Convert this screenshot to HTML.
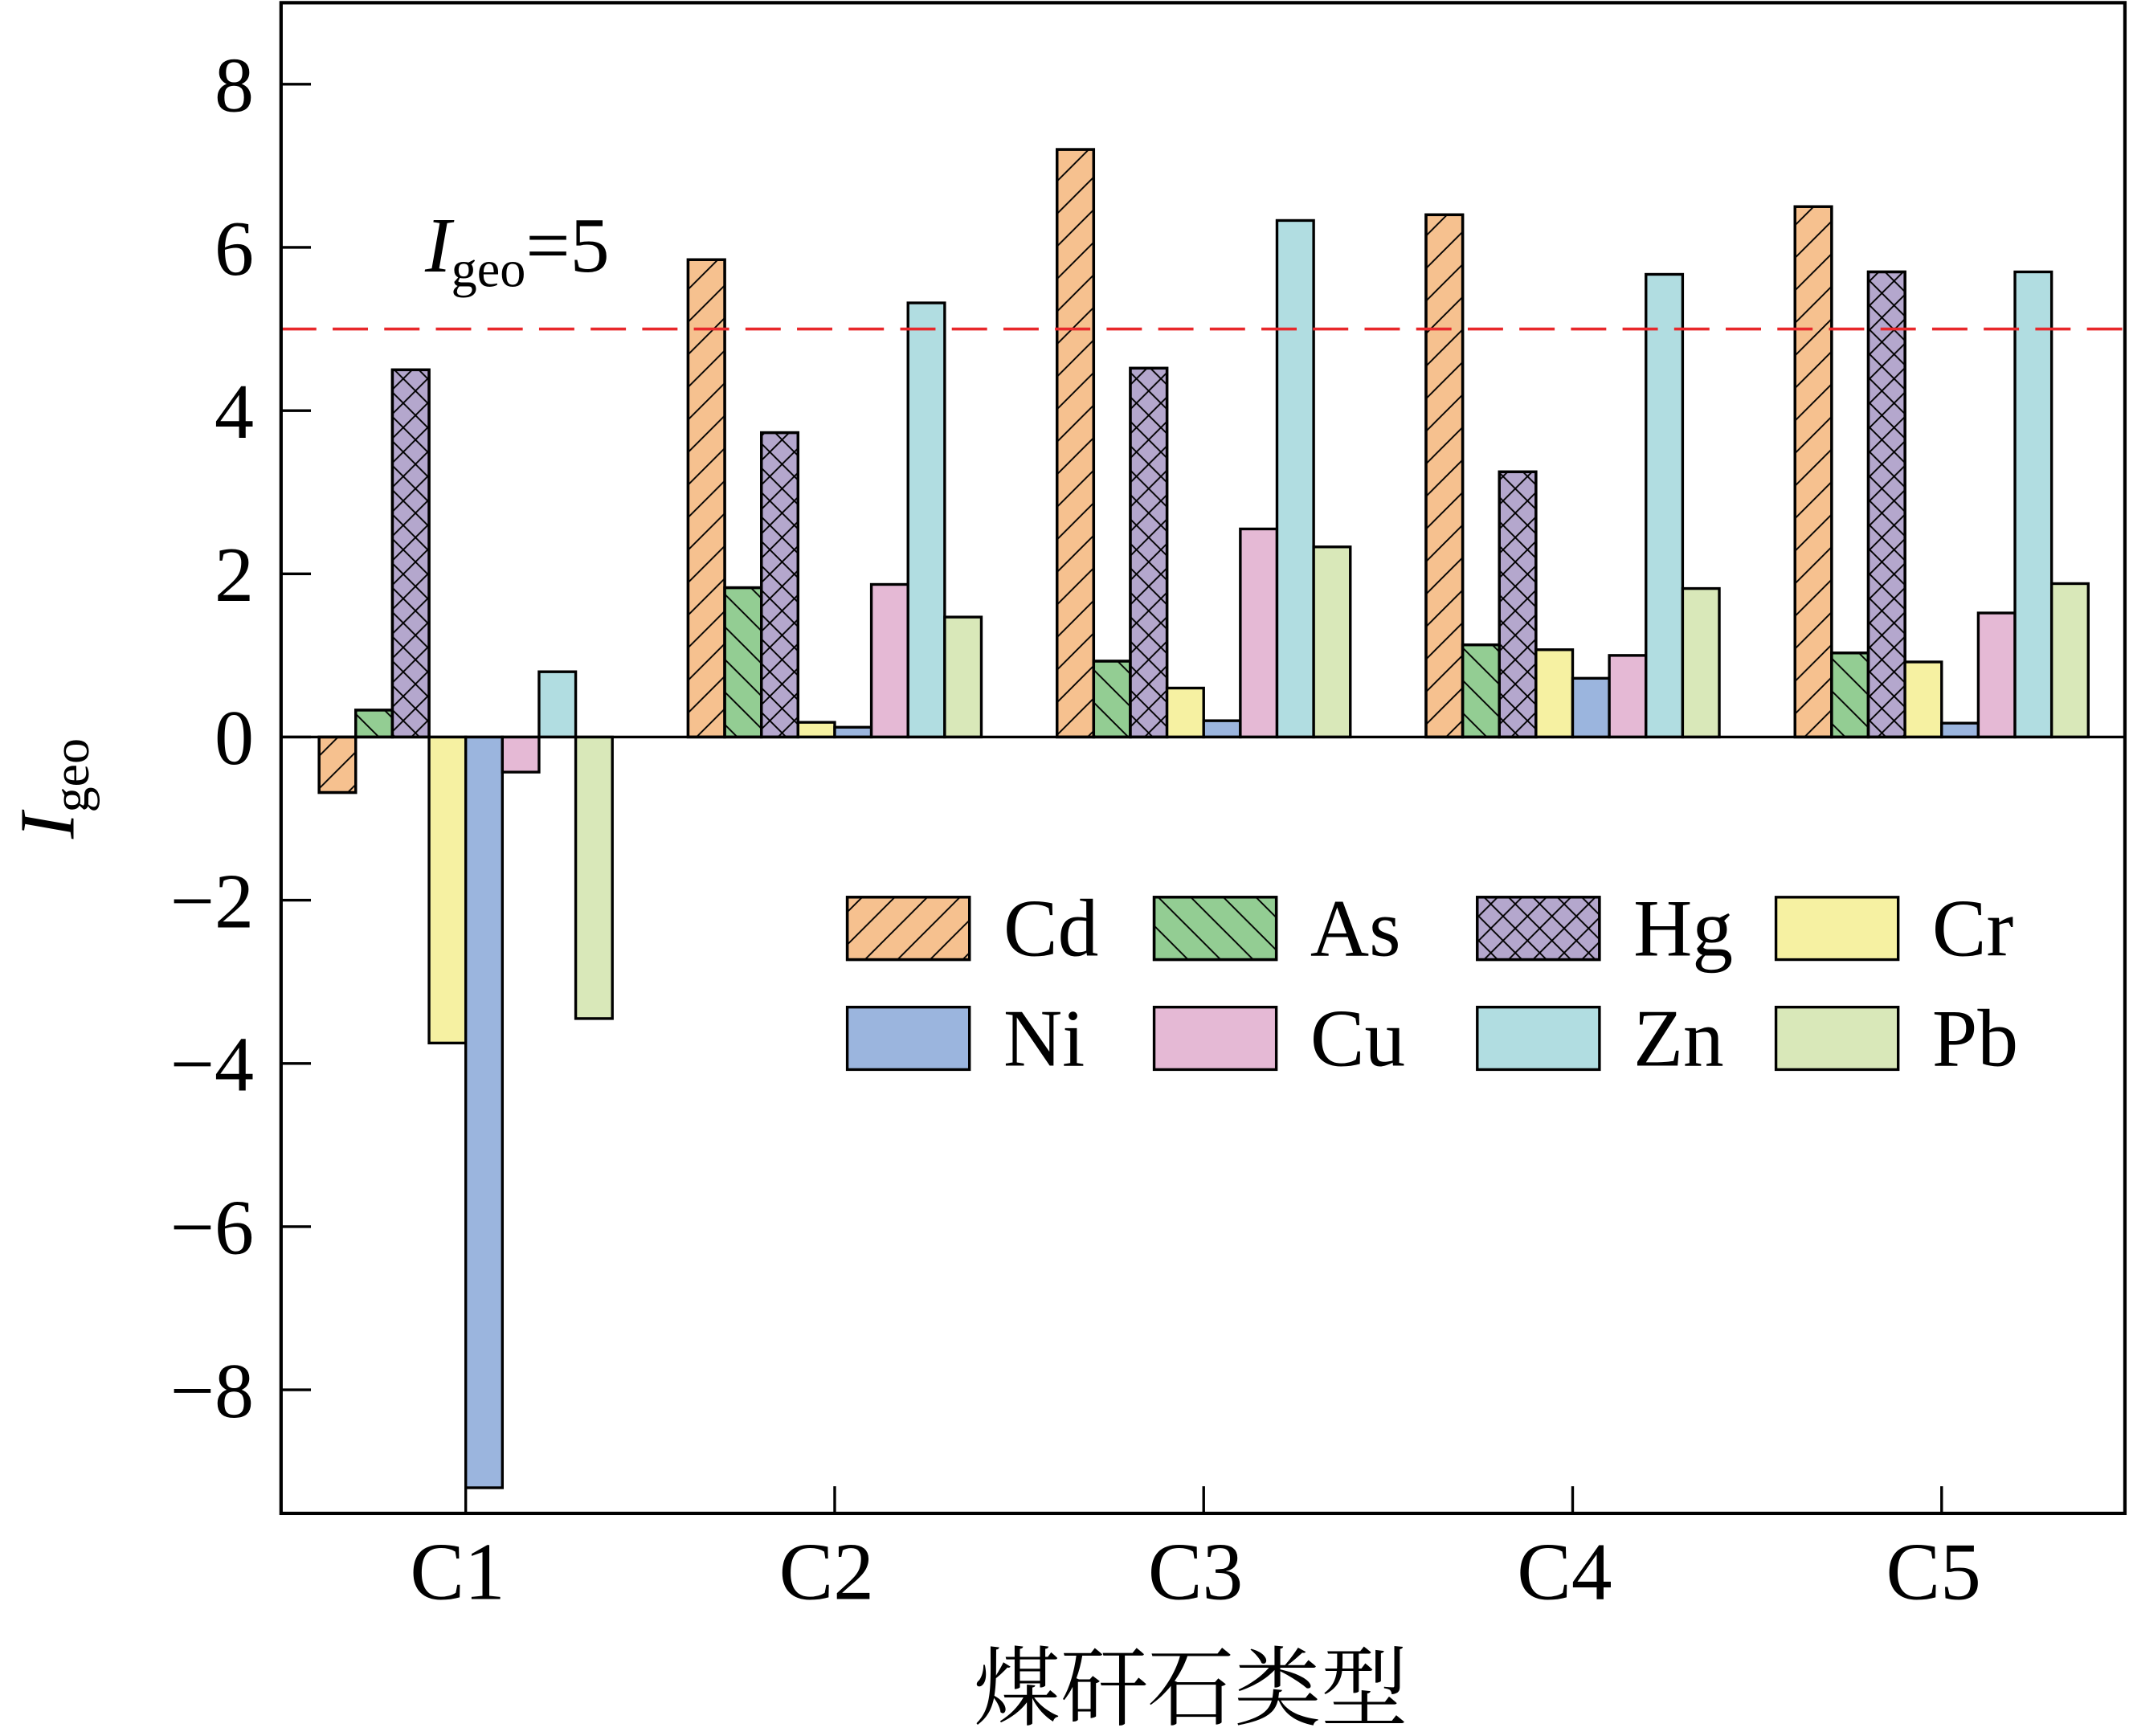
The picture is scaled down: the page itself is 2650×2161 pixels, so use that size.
<!DOCTYPE html>
<html><head><meta charset="utf-8"><style>
html,body{margin:0;padding:0;background:#fff}
svg{display:block}
text{font-family:"Liberation Serif","Noto Serif CJK SC",serif;fill:#000}
</style></head><body>
<svg id="chart" width="2650" height="2161" viewBox="0 0 1568 1279" preserveAspectRatio="none" xmlns="http://www.w3.org/2000/svg">
<defs>
<pattern id="p-fwd" patternUnits="userSpaceOnUse" width="24" height="24"><path d="M-2,26 L26,-2 M-2,2 L2,-2 M22,26 L26,22" stroke="#000" stroke-width="1.1"/></pattern>
<pattern id="p-back" patternUnits="userSpaceOnUse" width="24" height="24"><path d="M-2,-2 L26,26 M22,-2 L26,2 M-2,22 L2,26" stroke="#000" stroke-width="1.1"/></pattern>
<pattern id="p-cross" patternUnits="userSpaceOnUse" width="18" height="18"><path d="M-2,20 L20,-2 M-2,-2 L20,20" stroke="#000" stroke-width="1.1"/></pattern>
</defs>
<g id="bars"></g>
<g id="axes"></g>
<g id="legend"></g>
</svg>
<script>
const categories = ["C1","C2","C3","C4","C5"];
const elements = ["Cd","As","Hg","Cr","Ni","Cu","Zn","Pb"];
const cdVals = [-0.68, 5.85, 7.2, 6.4, 6.5];
const asVals = [0.33, 1.83, 0.93, 1.13, 1.03];
const hgVals = [4.5, 3.73, 4.52, 3.25, 5.7];
const crVals = [-3.75, 0.18, 0.6, 1.07, 0.92];
const niVals = [-9.2, 0.12, 0.2, 0.72, 0.17];
const cuVals = [-0.43, 1.87, 2.55, 1.0, 1.52];
const znVals = [0.8, 5.32, 6.33, 5.67, 5.7];
const pbVals = [-3.45, 1.47, 2.33, 1.82, 1.88];
const yTicks = [-8,-6,-4,-2,0,2,4,6,8];
const yTickLabels = ["\u22128","\u22126","\u22124","\u22122","0","2","4","6","8"];
const threshold = 5;

const series = [cdVals,asVals,hgVals,crVals,niVals,cuVals,znVals,pbVals];
const colors = ["#f6c18f","#93cd93","#b4a7cd","#f6f1a2","#9bb5de","#e5b9d5","#b1dde1","#d9e8b9"];
const pats = ["p-fwd","p-back","p-cross",null,null,null,null,null];
const NS="http://www.w3.org/2000/svg";
const L=207,R=1565,T=2,B=1115;
const y = v => 543 - v*60.12;
const x = i => 343 + i*271.75;
const bw = 27;
function mk(tag, attrs, parent){const e=document.createElementNS(NS,tag);for(const k in attrs)e.setAttribute(k,attrs[k]);parent.appendChild(e);return e;}
const gb=document.getElementById('bars'), ga=document.getElementById('axes'), gl=document.getElementById('legend');
series.forEach((vals,s)=>{
  vals.forEach((v,i)=>{
    const bx = x(i) - 4*bw + s*bw;
    const y0=y(0), y1=y(v);
    const r=mk('rect',{x:bx,y:Math.min(y0,y1),width:bw,height:Math.abs(y1-y0),fill:colors[s],stroke:'#000','stroke-width':2},gb);
    
    
    if(pats[s]){const p=mk('rect',{x:bx,y:Math.min(y0,y1),width:bw,height:Math.abs(y1-y0),fill:'url(#'+pats[s]+')',stroke:'#000','stroke-width':2},gb);
      
      }
  });
});
const zl=mk('line',{x1:L,x2:R,y1:y(0),y2:y(0),stroke:'#000','stroke-width':2},ga);


const th=mk('line',{x1:L,x2:R,y1:y(threshold),y2:y(threshold),stroke:'#e8282b','stroke-width':2.2,'stroke-dasharray':'26,12'},ga);


const tl=mk('text',{x:313,y:200,'font-size':58,'font-style':'italic'},ga);


tl.innerHTML='I<tspan font-style="normal" font-size="38" dy="11">geo</tspan><tspan font-style="normal" dy="-11">=5</tspan>';
const fr=mk('rect',{x:L,y:T,width:R-L,height:B-T,fill:'none',stroke:'#000','stroke-width':2.5},ga);


yTicks.forEach((t,k)=>{
  const tk=mk('line',{x1:L,x2:L+22,y1:y(t),y2:y(t),stroke:'#000','stroke-width':2},ga);
  
  
  const lb=mk('text',{x:187,y:y(t)+20,'font-size':58,'text-anchor':'end'},ga);
  
  
  lb.textContent=yTickLabels[k];
});
categories.forEach((c,i)=>{
  const tk=mk('line',{x1:x(i),x2:x(i),y1:B,y2:B-20,stroke:'#000','stroke-width':2},ga);
  
  
  const lb=mk('text',{x:x(i)-6,y:1178,'font-size':60,'text-anchor':'middle'},ga);
  
  
  lb.textContent=c;
});
const xt=mk('text',{x:877,y:1266,'font-size':64,'text-anchor':'middle'},ga);


xt.textContent='煤矸石类型';
const yt=mk('text',{x:0,y:0,'font-size':58,'font-style':'italic',transform:'translate(54,618) rotate(-90)'},ga);


yt.innerHTML='I<tspan font-style="normal" font-size="38" dy="11">geo</tspan>';
const lx=[624,850,1088,1308], ly=[661,742];
elements.forEach((e,s)=>{
  const cx=lx[s%4], cy=ly[Math.floor(s/4)];
  const b=mk('rect',{x:cx,y:cy,width:90,height:46,fill:colors[s],stroke:'#000','stroke-width':2},gl);
  
  
  if(pats[s]){const p=mk('rect',{x:cx,y:cy,width:90,height:46,fill:'url(#'+pats[s]+')',stroke:'#000','stroke-width':2},gl);
    
    }
  const t=mk('text',{x:cx+115,y:cy+43,'font-size':60},gl);
  
  
  t.textContent=e;
});
</script>
</body></html>
